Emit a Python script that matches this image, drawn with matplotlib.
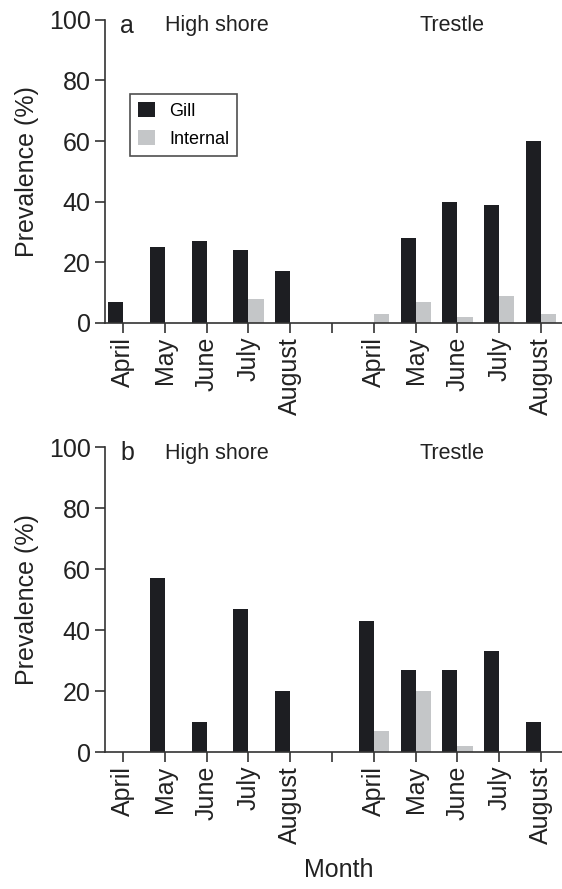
import numpy as np
import matplotlib
matplotlib.use("Agg")
import matplotlib.pyplot as plt

plt.rcParams['font.family'] = ['Liberation Sans', 'DejaVu Sans']

months = ['April', 'May', 'June', 'July', 'August']
sites = ['High shore', 'Trestle']

# panel a
a_hs_gill = [7, 25, 27, 24, 17]
a_hs_int = [0, 0, 0, 8, 0]
a_tr_gill = [0, 28, 40, 39, 60]
a_tr_int = [3, 7, 2, 9, 3]

# panel b
b_hs_gill = [0, 57, 10, 47, 20]
b_hs_int = [0, 0, 0, 0, 0]
b_tr_gill = [43, 27, 27, 33, 10]
b_tr_int = [7, 20, 2, 0, 0]

gill_col = '#1d1e22'
int_col = '#c4c6c8'
axis_col = '#333333'

fig = plt.figure(figsize=(5.62, 8.89), dpi=100)
ax_a = fig.add_axes([0.187, 0.6367, 0.813, 0.341])
ax_b = fig.add_axes([0.187, 0.1541, 0.813, 0.343])

x_hs = np.arange(5)
x_tr = np.arange(6, 11)
w = 0.36

def draw(ax, hs_g, hs_i, tr_g, tr_i, letter, legend=False):
    x = np.concatenate([x_hs, x_tr])
    g = hs_g + tr_g
    i = hs_i + tr_i
    ax.bar(x - w / 2, g, width=w, color=gill_col, label='Gill')
    ax.bar(x + w / 2, i, width=w, color=int_col, label='Internal')
    ax.set_xlim(-0.43, 10.5)
    ax.set_ylim(0, 100)
    ax.set_yticks([0, 20, 40, 60, 80, 100])
    ax.set_xticks(list(x_hs) + [5] + list(x_tr))
    ax.set_xticklabels(months + [''] + months, rotation=90)
    for s in ['top', 'right']:
        ax.spines[s].set_visible(False)
    for s in ['left', 'bottom']:
        ax.spines[s].set_color(axis_col)
        ax.spines[s].set_linewidth(1.2)
    ax.tick_params(direction='out', length=7, width=1.2, color=axis_col,
                   labelsize=18, colors='#222222')
    ax.tick_params(axis='x', pad=3)
    ax.set_ylabel('Prevalence (%)', fontsize=18, labelpad=7, color='#222222')
    ax.text(-0.07, 98, letter, fontsize=18, ha='left', va='center', color='#222222')
    ax.text(2.25, 98, sites[0], fontsize=15.5, ha='center', va='center', color='#222222')
    ax.text(7.87, 98, sites[1], fontsize=15.5, ha='center', va='center', color='#222222')
    if legend:
        leg = ax.legend(loc='upper left', bbox_to_anchor=(0.055, 0.756),
                        fontsize=13, frameon=True, fancybox=False,
                        handlelength=0.9, handleheight=0.9, handletextpad=0.8,
                        borderpad=0.45, labelspacing=0.6, borderaxespad=0)
        leg.get_frame().set_edgecolor('#222222')
        leg.get_frame().set_linewidth(1.2)

draw(ax_a, a_hs_gill, a_hs_int, a_tr_gill, a_tr_int, 'a', legend=True)
draw(ax_b, b_hs_gill, b_hs_int, b_tr_gill, b_tr_int, 'b')

fig.text(0.602, 0.021, 'Month', fontsize=18, ha='center', va='center', color='#222222')

fig.savefig('out.png', dpi=100)
